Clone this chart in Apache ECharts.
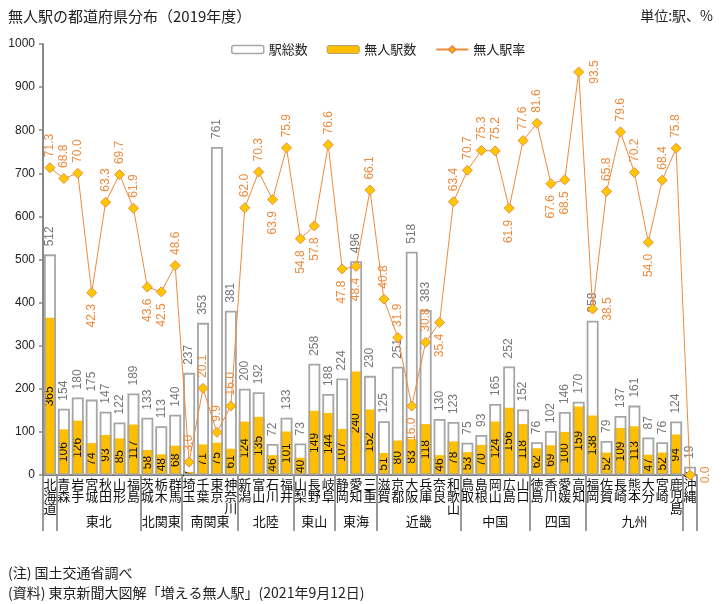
<!DOCTYPE html>
<html>
<head>
<meta charset="utf-8">
<script src="https://cdn.jsdelivr.net/npm/echarts@6/dist/echarts.min.js"></script>
<style>
html,body{margin:0;padding:0;background:#fff;}
#chart{width:724px;height:604px;}
</style>
</head>
<body>
<div id="chart"></div>
<script>
var prefectures = ['北海道','青森','岩手','宮城','秋田','山形','福島','茨城','栃木','群馬','埼玉','千葉','東京','神奈川','新潟','富山','石川','福井','山梨','長野','岐阜','静岡','愛知','三重','滋賀','京都','大阪','兵庫','奈良','和歌山','鳥取','島根','岡山','広島','山口','徳島','香川','愛媛','高知','福岡','佐賀','長崎','熊本','大分','宮崎','鹿児島','沖縄'];
var totalStations = [512,154,180,175,147,122,189,133,113,140,237,353,761,381,200,192,72,133,73,258,188,224,496,230,125,251,518,383,130,123,75,93,165,252,152,76,102,146,170,358,79,137,161,87,76,124,19];
var unmannedStations = [365,106,126,74,93,85,117,58,48,68,7,71,75,61,124,135,46,101,40,149,144,107,240,152,51,80,83,118,46,78,53,70,124,156,118,62,69,100,159,138,52,109,113,47,52,94,0];
var unmannedRate = [71.3,68.8,70.0,42.3,63.3,69.7,61.9,43.6,42.5,48.6,3.0,20.1,9.9,16.0,62.0,70.3,63.9,75.9,54.8,57.8,76.6,47.8,48.4,66.1,40.8,31.9,16.0,30.8,35.4,63.4,70.7,75.3,75.2,61.9,77.6,81.6,67.6,68.5,93.5,38.5,65.8,79.6,70.2,54.0,68.4,75.8,0.0];
var regionNames = ['','東北','北関東','南関東','北陸','東山','東海','近畿','中国','四国','九州',''];
var regionCounts = [1,6,3,4,4,3,3,6,5,4,7,1];
var yTicks = [0,100,200,300,400,500,600,700,800,900,1000];
// label placement for the rate labels (style only)
var rateLabelSide = ['t','t','t','b','t','t','t','b','b','t','t','t','t','t','t','t','b','t','b','b','t','b','b','t','t','t','b','t','b','t','t','t','t','b','t','t','b','b','r','r','t','t','t','b','t','t','r'];

var bounds = [0], centers = [], centerName = {};
regionCounts.forEach(function(c, i){
  var s = bounds[bounds.length-1];
  bounds.push(s + c);
  if (regionNames[i]) { var m = s + c/2; centers.push(m); centerName[m] = regionNames[i]; }
});

var numFont = 'Liberation Sans, Arial, sans-serif';
var jpFont = 'Noto Sans CJK JP, sans-serif';
var rateColor = '#EE8A3C';

var rateData = unmannedRate.map(function(r, i){
  var side = rateLabelSide[i];
  var lab;
  if (side === 't') lab = {position:'top', align:'left', verticalAlign:'middle', distance:5};
  else if (side === 'b') lab = {position:'bottom', align:'right', verticalAlign:'middle', distance:6};
  else lab = {position:'right', align:'center', verticalAlign:'top', distance:4};
  return {value: r*10, label: lab};
});

var chart = echarts.init(document.getElementById('chart'), null, {renderer:'canvas'});
chart.setOption({
  animation: false,
  backgroundColor: '#fff',
  textStyle: {fontFamily: jpFont},
  title: [
    {text:'無人駅の都道府県分布（2019年度）', left:3, top:4, textStyle:{fontSize:15, fontWeight:'normal', color:'#222', fontFamily:jpFont}},
    {text:'単位:駅、%', right:6, top:4, textStyle:{fontSize:14, fontWeight:'normal', color:'#222', fontFamily:jpFont}},
    {text:'(注) 国土交通省調べ', left:3, top:561, textStyle:{fontSize:14, fontWeight:'normal', color:'#222', fontFamily:jpFont}},
    {text:'(資料) 東京新聞大図解「増える無人駅」(2021年9月12日)', left:3, top:581, textStyle:{fontSize:14, fontWeight:'normal', color:'#222', fontFamily:jpFont}}
  ],
  legend: {
    left: 226, top: 38, itemWidth: 32, itemHeight: 8, itemGap: 19,
    textStyle: {fontSize: 13, color:'#222', fontFamily: jpFont},
    data: [
      {name:'駅総数', itemStyle:{color:'#fff', borderColor:'#A6A6A6', borderWidth:1.5}},
      {name:'無人駅数', itemStyle:{color:'#FFBE00', borderColor:'#B0A070', borderWidth:1}},
      {name:'無人駅率'}
    ]
  },
  grid: {left: 43, right: 27, top: 44, bottom: 129, containLabel: false},
  xAxis: [
    {
      type: 'category', data: prefectures, position: 'bottom',
      axisLine: {show:true, lineStyle:{color:'#555', width:1.5}},
      axisTick: {show:false},
      axisLabel: {interval:0, margin:3, fontSize:13, lineHeight:12, color:'#111', fontFamily: jpFont,
        formatter: function(v){ return v.split('').join('\n'); }}
    },
    {
      type: 'value', min: 0, max: 47, position: 'bottom',
      axisLine: {show:false},
      splitLine: {show:false},
      axisTick: {show:true, customValues: bounds, length: 56, lineStyle:{color:'#999', width:2}},
      axisLabel: {show:true, customValues: centers, margin: 40, fontSize: 13, color:'#111', fontFamily: jpFont,
        formatter: function(v){ return centerName[v] || ''; }}
    }
  ],
  yAxis: {
    type: 'value', min: 0, max: 1000, interval: 100,
    axisLine: {show:true, lineStyle:{color:'#888', width:2}},
    axisTick: {show:true, length:4, lineStyle:{color:'#888', width:1.5}},
    splitLine: {show:false},
    axisLabel: {fontSize:12, color:'#222', fontFamily:numFont, margin:8,
      customValues: yTicks, formatter: function(v){ return String(v); }}
  },
  series: [
    {
      name: '無人駅数', type: 'bar', data: unmannedStations, barWidth: '86%', barGap: '-100%', z: 2,
      itemStyle: {color:'#FFBE00'},
      label: {show:true, position:'inside', rotate:90, align:'center', verticalAlign:'middle',
        fontSize:12, color:'#111', fontFamily:numFont}
    },
    {
      name: '駅総数', type: 'bar', data: totalStations, barWidth: '86%', barGap: '-100%', z: 3,
      itemStyle: {color:'rgba(255,255,255,0)', borderColor:'#A6A6A6', borderWidth:1.8},
      label: {show:true, position:'top', rotate:90, align:'left', verticalAlign:'middle', distance:8,
        fontSize:12, color:'#777', fontFamily:numFont}
    },
    {
      name: '無人駅率', type: 'line', data: rateData, z: 5,
      symbol: 'diamond', symbolSize: 10,
      lineStyle: {color: rateColor, width: 1},
      itemStyle: {color: '#FFC800', borderColor: rateColor, borderWidth: 1},
      label: {show:true, rotate:90, fontSize:12, color: rateColor, fontFamily:numFont,
        formatter: function(p){ return unmannedRate[p.dataIndex].toFixed(1); }}
    }
  ]
});
</script>
</body>
</html>
